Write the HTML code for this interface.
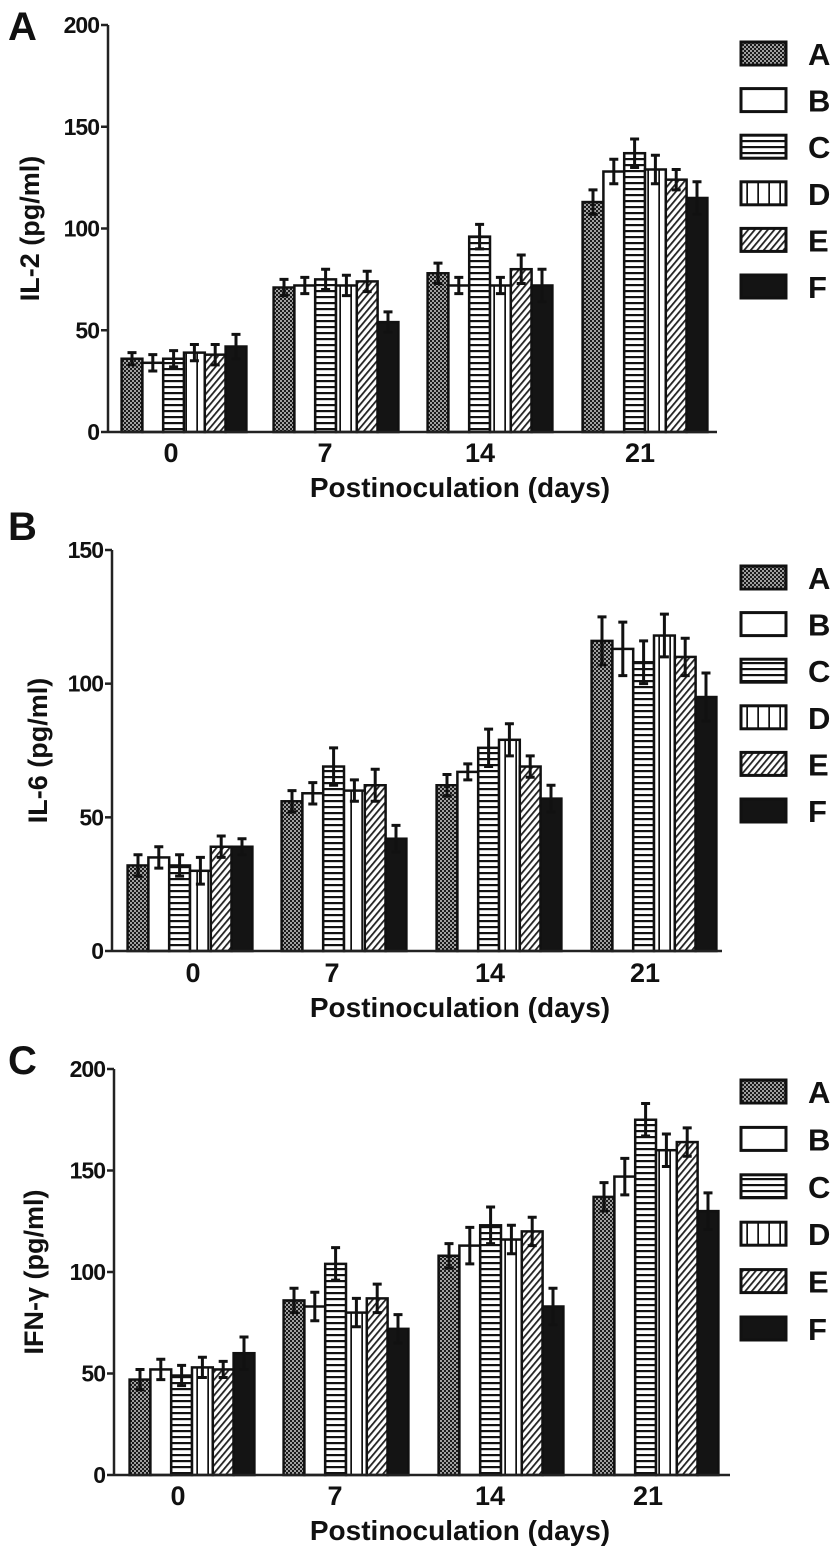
<!DOCTYPE html>
<html><head><meta charset="utf-8"><style>
html,body{margin:0;padding:0;background:#fff}
svg{display:block}
text{font-family:"Liberation Sans",Arial,sans-serif;font-weight:bold;fill:#111}
</style></head><body>
<svg id="fig" width="839" height="1552" viewBox="0 0 839 1552" xmlns="http://www.w3.org/2000/svg">
<defs>
<pattern id="pA" width="4" height="4" patternUnits="userSpaceOnUse"><rect width="4" height="4" fill="#1a1a1a"/><circle cx="1" cy="1" r="0.9" fill="#fff"/><circle cx="3" cy="3" r="0.9" fill="#fff"/></pattern>
<pattern id="pC" width="6" height="6" patternUnits="userSpaceOnUse"><rect width="6" height="6" fill="#fff"/><rect y="2" width="6" height="2.2" fill="#111"/></pattern>
<pattern id="pD" width="11" height="6" patternUnits="userSpaceOnUse"><rect width="11" height="6" fill="#fff"/><rect x="9.3" width="1.8" height="6" fill="#111"/></pattern>
<pattern id="pE" width="5" height="5" patternUnits="userSpaceOnUse" patternTransform="rotate(40)"><rect width="5" height="5" fill="#fff"/><rect width="1.8" height="5" fill="#222"/></pattern>
</defs>
</svg>
<script>
const groups = ["0","7","14","21"];
const seriesNames = ["A","B","C","D","E","F"];
// Panel A: IL-2
const il2A=[36,71,78,113], il2B=[34,72,72,128], il2C=[36,75,96,137], il2D=[39,72,72,129], il2E=[38,74,80,124], il2F=[42,54,72,115];
const il2Err=[[3,4,5,6],[4,4,4,6],[4,5,6,7],[4,5,4,7],[5,5,7,5],[6,5,8,8]];
// Panel B: IL-6
const il6A=[32,56,62,116], il6B=[35,59,67,113], il6C=[32,69,76,108], il6D=[30,60,79,118], il6E=[39,62,69,110], il6F=[39,42,57,95];
const il6Err=[[4,4,4,9],[4,4,3,10],[4,7,7,8],[5,4,6,8],[4,6,4,7],[3,5,5,9]];
// Panel C: IFN-gamma
const ifnA=[47,86,108,137], ifnB=[52,83,113,147], ifnC=[49,104,123,175], ifnD=[53,80,116,160], ifnE=[52,87,120,164], ifnF=[60,72,83,130];
const ifnErr=[[5,6,6,7],[5,7,9,9],[5,8,9,8],[5,7,7,8],[4,7,7,7],[8,7,9,9]];
const yTicksA=[0,50,100,150,200], yTicksB=[0,50,100,150], yTicksC=[0,50,100,150,200];

const fills=["url(#pA)","#fff","url(#pC)","url(#pD)","url(#pE)","#141414"];
const NS="http://www.w3.org/2000/svg";
const svg=document.getElementById('fig');
function el(tag,attrs,parent){const e=document.createElementNS(NS,tag);for(const k in attrs)e.setAttribute(k,attrs[k]);(parent||svg).appendChild(e);return e;}

const panels=[
 {letter:"A",ly:40,ax:108,top:25,bot:432,max:200,ticks:yTicksA,xEnd:717,centers:[184,336,490,645],labelX:[171,325,480,640],tickY:462,titleY:497,yTitle:"IL-2 (pg/ml)",yTitleX:32,legTop:42,legStep:46.6,data:[il2A,il2B,il2C,il2D,il2E,il2F],err:il2Err},
 {letter:"B",ly:540,ax:112,top:550,bot:951,max:150,ticks:yTicksB,xEnd:722,centers:[190,344,499,654],labelX:[193,332,490,645],tickY:982,titleY:1017,yTitle:"IL-6  (pg/ml)",yTitleX:40,legTop:566,legStep:46.6,data:[il6A,il6B,il6C,il6D,il6E,il6F],err:il6Err},
 {letter:"C",ly:1074,ax:114,top:1069,bot:1475,max:200,ticks:yTicksC,xEnd:730,centers:[192,346,501,656],labelX:[178,335,490,648],tickY:1505,titleY:1540,yTitle:"IFN-\u03b3  (pg/ml)",yTitleX:36,legTop:1080,legStep:47.4,data:[ifnA,ifnB,ifnC,ifnD,ifnE,ifnF],err:ifnErr}
];
const BW=20.8;
panels.forEach((p,pi)=>{
  const g=el('g',{});
  
  
  const y=v=>p.bot-(v/p.max)*(p.bot-p.top);
  const lt=el('text',{x:8,y:p.ly,'font-size':40},g);lt.textContent=p.letter;
  
  
  p.data.forEach((ser,si)=>{
    ser.forEach((v,gi)=>{
      const x0=p.centers[gi]-3*BW+si*BW;
      const r=el('rect',{x:x0,y:y(v),width:BW,height:p.bot-y(v),fill:fills[si],stroke:'#111','stroke-width':2.5},g);
      
      
      const e=p.err[si][gi], cx=x0+BW/2;
      const eb=el('path',{d:`M${cx},${y(v+e)}V${y(v-e)}M${cx-4.5},${y(v+e)}H${cx+4.5}M${cx-4.5},${y(v-e)}H${cx+4.5}`,stroke:'#111','stroke-width':3,fill:'none'},g);
      
      
    });
  });
  const ya=el('line',{x1:p.ax,y1:p.top,x2:p.ax,y2:p.bot,stroke:'#222','stroke-width':2.5},g);
  
  
  const xa=el('line',{x1:p.ax,y1:p.bot,x2:p.xEnd,y2:p.bot,stroke:'#222','stroke-width':2.5},g);
  
  
  p.ticks.forEach(t=>{
    el('line',{x1:p.ax-7,y1:y(t),x2:p.ax,y2:y(t),stroke:'#222','stroke-width':2.5},g);
    const tl=el('text',{x:p.ax-9,y:y(t)+8,'font-size':23,'text-anchor':'end','letter-spacing':'-1'},g);tl.textContent=t;
    
    
  });
  groups.forEach((gl,gi)=>{
    const tl=el('text',{x:p.labelX[gi],y:p.tickY,'font-size':27,'text-anchor':'middle'},g);tl.textContent=gl;
    
    
  });
  const xt=el('text',{x:460,y:p.titleY,'font-size':28,'text-anchor':'middle'},g);xt.textContent="Postinoculation (days)";
  
  
  const cy=(p.top+p.bot)/2;
  const yt=el('text',{x:p.yTitleX,y:cy,'font-size':27,'text-anchor':'middle',transform:`rotate(-90 ${p.yTitleX} ${cy})`,'dominant-baseline':'middle'},g);yt.textContent=p.yTitle;
  
  
  seriesNames.forEach((n,si)=>{
    const ly=p.legTop+si*p.legStep;
    const lg=el('g',{},g);
    
    
    el('rect',{x:741,y:ly,width:45,height:23,fill:fills[si],stroke:'#111','stroke-width':3},lg);
    const t=el('text',{x:808,y:ly+23,'font-size':31},lg);t.textContent=n;
  });
});
</script>
</body></html>
